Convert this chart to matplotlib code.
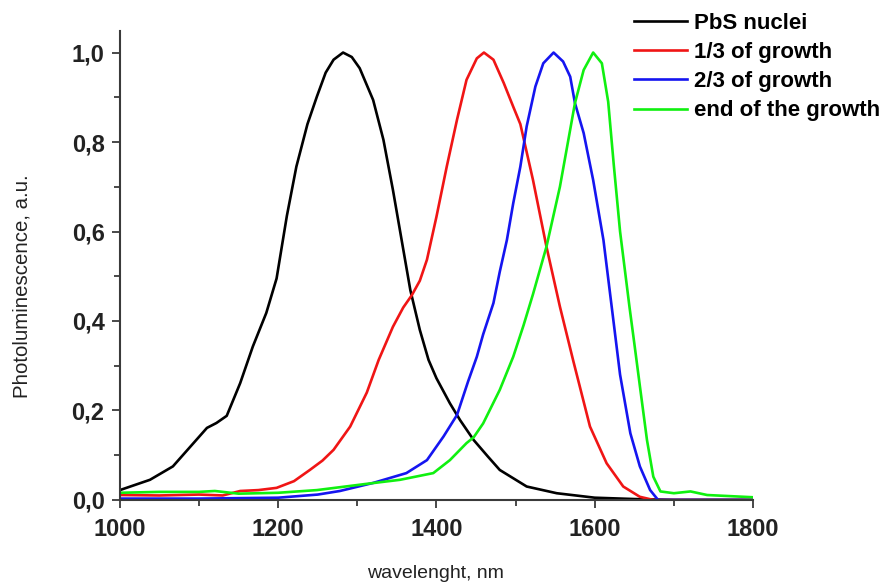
import numpy as np
import matplotlib
matplotlib.use("Agg")
from matplotlib import pyplot as plt
from matplotlib.ticker import MultipleLocator, FuncFormatter

# PbS nuclei
nuc_x = [1000, 1038, 1067, 1093, 1110, 1122, 1135, 1152, 1168, 1185, 1198, 1211, 1223, 1237,
         1249, 1260, 1270, 1282, 1293, 1303, 1320, 1333, 1345, 1356, 1367, 1379, 1390, 1400,
         1417, 1430, 1447, 1465, 1480, 1514, 1552, 1600, 1650, 1700, 1800]
nuc_y = [0.022, 0.045, 0.075, 0.127, 0.161, 0.172, 0.188, 0.261, 0.343, 0.418, 0.495, 0.635, 0.745, 0.84,
         0.902, 0.955, 0.984, 1.0, 0.99, 0.965, 0.894, 0.805, 0.693, 0.581, 0.469, 0.38, 0.313, 0.272,
         0.216, 0.178, 0.134, 0.097, 0.067, 0.03, 0.015, 0.005, 0.002, 0.0, 0.0]

# 1/3 of growth
g1_x = [1000, 1050, 1100, 1130, 1152, 1175, 1198, 1220, 1240, 1256, 1270, 1291, 1312, 1327,
        1345, 1358, 1369, 1379, 1388, 1400, 1413, 1426, 1438, 1451, 1460, 1472, 1485, 1497,
        1506, 1522, 1539, 1556, 1573, 1594, 1615, 1636, 1657, 1674, 1700, 1800]
g1_y = [0.011, 0.01, 0.012, 0.01, 0.02, 0.022, 0.027, 0.042, 0.067, 0.088, 0.112, 0.164, 0.24, 0.313,
        0.387, 0.43, 0.458, 0.49, 0.537, 0.633, 0.745, 0.85, 0.939, 0.987, 1.0, 0.984, 0.932, 0.879,
        0.84, 0.715, 0.566, 0.432, 0.31, 0.164, 0.082, 0.03, 0.007, 0.0, 0.0, 0.0]

# 2/3 of growth
g2_x = [1000, 1100, 1200, 1250, 1278, 1320, 1362, 1388, 1409, 1426, 1440, 1451, 1459, 1472,
        1480, 1489, 1497, 1506, 1514, 1525, 1535, 1548, 1560, 1569, 1575, 1586, 1598, 1611,
        1624, 1632, 1645, 1657, 1670, 1680, 1700, 1800]
g2_y = [0.003, 0.003, 0.005, 0.012, 0.02, 0.038, 0.06, 0.089, 0.142, 0.19, 0.265, 0.32, 0.37, 0.44,
        0.51, 0.581, 0.663, 0.745, 0.835, 0.924, 0.976, 1.0, 0.98, 0.946, 0.887, 0.82, 0.715, 0.581,
        0.395, 0.28, 0.149, 0.075, 0.022, 0.0, 0.0, 0.0]

# end of the growth
g3_x = [1000, 1050, 1100, 1120, 1150, 1200, 1249, 1312, 1354, 1396, 1417, 1438, 1447, 1459,
        1480, 1497, 1510, 1522, 1539, 1556, 1575, 1586, 1598, 1609, 1617, 1624, 1632, 1644,
        1650, 1657, 1666, 1674, 1683, 1700, 1721, 1742, 1800]
g3_y = [0.016, 0.018, 0.018, 0.02, 0.014, 0.016, 0.022, 0.036, 0.045, 0.06, 0.089, 0.127, 0.14, 0.171,
        0.246, 0.32, 0.39, 0.46, 0.566, 0.70, 0.887, 0.961, 1.0, 0.976, 0.89, 0.75, 0.60, 0.43,
        0.35, 0.255, 0.134, 0.052, 0.019, 0.015, 0.019, 0.011, 0.006]

labels = ["PbS nuclei", "1/3 of growth", "2/3 of growth", "end of the growth"]
colors = ["#000000", "#f01515", "#1515f0", "#10f010"]

plt.rcParams['font.family'] = ['Liberation Sans', 'DejaVu Sans']

fig = plt.figure(figsize=(8.88, 5.82), dpi=100)
ax = fig.add_axes([0.135, 0.141, 0.713, 0.806])

for xs, ys, c, lab in zip([nuc_x, g1_x, g2_x, g3_x], [nuc_y, g1_y, g2_y, g3_y], colors, labels):
    ax.plot(xs, ys, color=c, lw=1.9, label=lab, solid_joinstyle='round')

ax.set_xlim(1000, 1800)
ax.set_ylim(0, 1.0485)
ax.xaxis.set_major_locator(MultipleLocator(200))
ax.xaxis.set_minor_locator(MultipleLocator(100))
ax.yaxis.set_major_locator(MultipleLocator(0.2))
ax.yaxis.set_minor_locator(MultipleLocator(0.1))
ax.yaxis.set_major_formatter(FuncFormatter(lambda v, p: f"{v:.1f}".replace(".", ",")))

for s in ["top", "right"]:
    ax.spines[s].set_visible(False)
for s in ["left", "bottom"]:
    ax.spines[s].set_linewidth(1.5)
    ax.spines[s].set_color("#3a3a3a")

ax.tick_params(which="major", direction="out", length=6, width=1.3, color="#3a3a3a", pad=5,
               labelsize=17)
ax.tick_params(axis="x", which="major", pad=7)
ax.tick_params(which="minor", direction="out", length=4, width=1.3, color="#3a3a3a")
for t in ax.get_xticklabels() + ax.get_yticklabels():
    t.set_fontweight("bold")
    t.set_color("#222222")

fig.text(0.025, 0.508, "Photoluminescence, a.u.", rotation=90, ha="center", va="center",
         fontsize=14.7, color="#222222")
fig.text(0.49, 0.014, "wavelenght, nm", ha="center", va="center", fontsize=14, color="#222222")

fig.legend(loc="upper left", bbox_to_anchor=(0.714, 0.978), frameon=False, borderpad=0,
           borderaxespad=0, handlelength=2.4, handletextpad=0.3, labelspacing=0.37,
           prop={"weight": "bold", "size": 16})

fig.savefig("out.png", dpi=100)
